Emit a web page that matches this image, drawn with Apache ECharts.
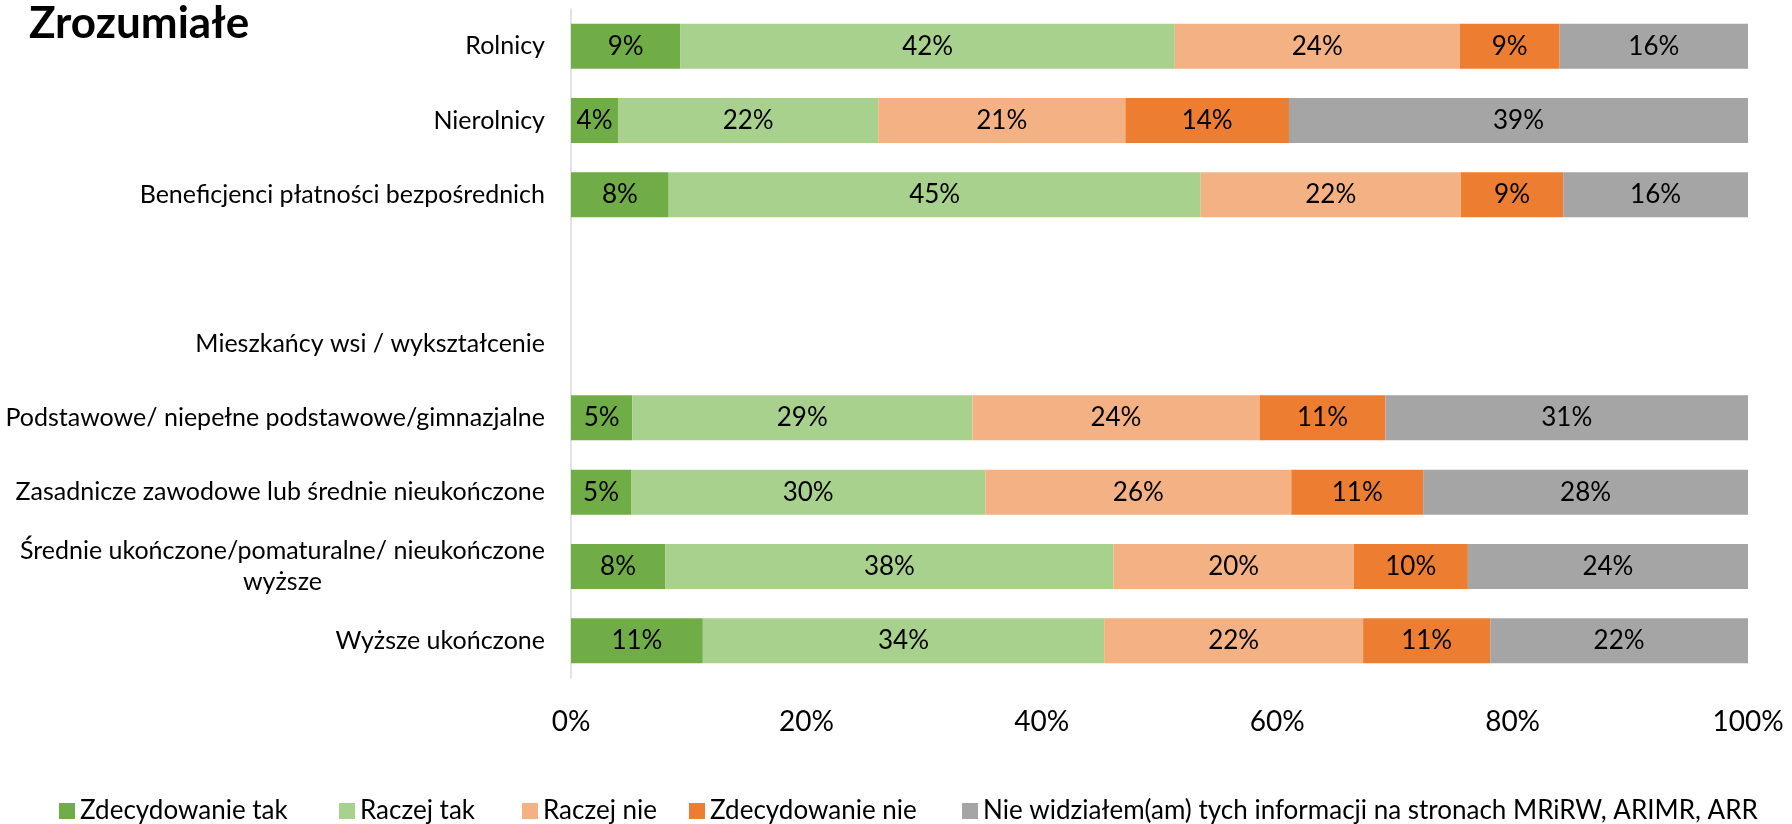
<!DOCTYPE html>
<html>
<head>
<meta charset="utf-8">
<title>Zrozumiałe</title>
<script src="https://cdn.jsdelivr.net/npm/echarts@6/dist/echarts.min.js"></script>
<style>
  html, body { margin: 0; padding: 0; background: #fff; }
  #chart { width: 1792px; height: 824px; }
</style>
</head>
<body>
<div id="chart"></div>
<script>
// kategorie (od góry); dwie bez danych: odstęp i nagłówek grupy
var categories = [
  'Rolnicy',
  'Nierolnicy',
  'Beneficjenci płatności bezpośrednich',
  '',
  'Mieszkańcy wsi / wykształcenie',
  'Podstawowe/ niepełne podstawowe/gimnazjalne',
  'Zasadnicze zawodowe lub średnie nieukończone',
  'Średnie ukończone/pomaturalne/ nieukończone\nwyższe',
  'Wyższe ukończone'
];

var seriesNames = [
  'Zdecydowanie tak',
  'Raczej tak',
  'Raczej nie',
  'Zdecydowanie nie',
  'Nie widziałem(am) tych informacji na stronach MRiRW, ARIMR, ARR'
];

var zdecydowanieTak = [9.3, 4.0, 8.3, null, null, 5.2, 5.1, 8.0, 11.2];
var raczejTak       = [42.0, 22.1, 45.2, null, null, 28.9, 30.1, 38.1, 34.1];
var raczejNie       = [24.2, 21.0, 22.1, null, null, 24.4, 26.0, 20.4, 22.0];
var zdecydowanieNie = [8.5, 13.9, 8.7, null, null, 10.7, 11.2, 9.7, 10.8];
var nieWidzialem    = [16.0, 39.0, 15.7, null, null, 30.8, 27.6, 23.8, 21.9];

var colors = ['#70ad47', '#a9d18e', '#f4b183', '#ed7d31', '#a5a5a5'];
var legendLeft = [59, 339, 522, 689, 962];

var FONT = 'Lato';

var values = [zdecydowanieTak, raczejTak, raczejNie, zdecydowanieNie, nieWidzialem];
var series = [];
var legends = [];
for (var i = 0; i < seriesNames.length; i++) {
  series.push({
    name: seriesNames[i],
    type: 'bar',
    stack: 'total',
    barWidth: 45,
    itemStyle: { color: colors[i] },
    label: {
      show: true,
      position: 'inside',
      color: '#000',
      fontFamily: FONT,
      fontSize: 26,
      formatter: function (p) { return Math.round(p.value) + '%'; }
    },
    emphasis: { disabled: true },
    data: values[i]
  });
  legends.push({
    data: [seriesNames[i]],
    left: legendLeft[i],
    top: 798,
    padding: 0,
    icon: 'rect',
    itemWidth: 16,
    itemHeight: 16,
    itemGap: 0,
    textStyle: { fontFamily: FONT, fontSize: 26, color: '#000' },
    selectedMode: false
  });
}

var chart = echarts.init(document.getElementById('chart'));
chart.setOption({
  animation: false,
  title: {
    text: 'Zrozumiałe',
    left: 24,
    top: -3,
    textStyle: { fontFamily: FONT, fontWeight: 'bold', fontSize: 44, color: '#000' }
  },
  legend: legends,
  grid: { left: 571, right: 44, top: 9, bottom: 146 },
  xAxis: {
    type: 'value',
    min: 0,
    max: 100,
    interval: 20,
    axisLine: { show: false },
    axisTick: { show: false },
    splitLine: { show: false },
    axisLabel: {
      margin: 30,
      fontFamily: FONT,
      fontSize: 28,
      color: '#000',
      formatter: '{value}%'
    }
  },
  yAxis: {
    type: 'category',
    inverse: true,
    data: categories,
    axisLine: { show: true, lineStyle: { color: '#d9d9d9', width: 1.5 } },
    axisTick: { show: false },
    axisLabel: {
      margin: 26,
      fontFamily: FONT,
      fontSize: 25,
      color: '#000',
      formatter: function (v) {
        if (v.indexOf('\n') < 0) return v;
        return v.split('\n').map(function (s) { return '{c|' + s + '}'; }).join('\n');
      },
      rich: {
        c: { align: 'center', fontFamily: FONT, fontSize: 25, color: '#000', lineHeight: 31 }
      }
    }
  },
  series: series
});
</script>
</body>
</html>
